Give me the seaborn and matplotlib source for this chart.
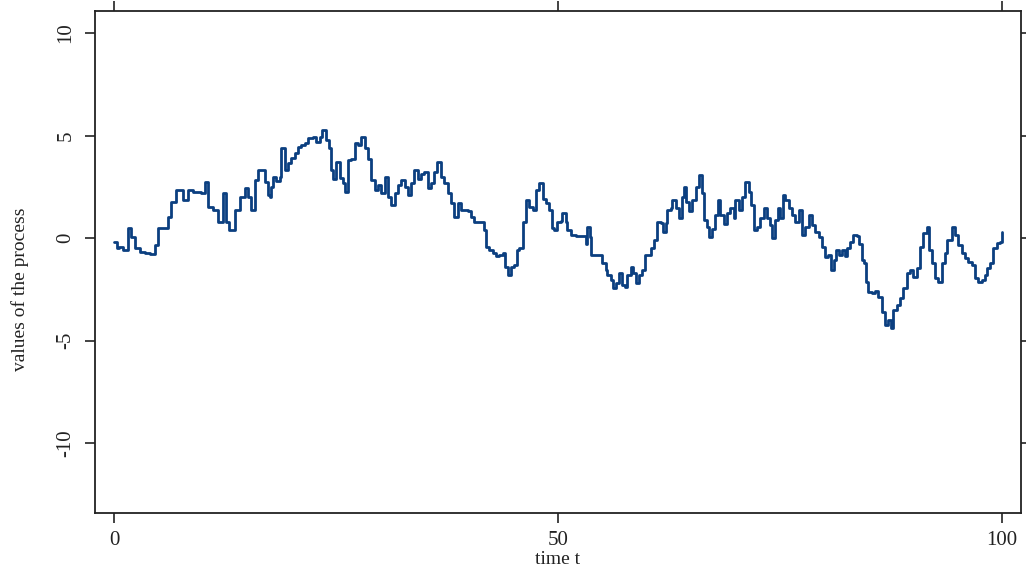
import pandas as pd
import matplotlib
matplotlib.use("Agg")
import matplotlib.pyplot as plt
import seaborn as sns

# values
time_t = [
    0.0, 0.3, 0.6, 1.0, 1.58, 1.95, 2.33, 2.9, 3.45, 4.0, 4.58, 4.95, 5.5, 6.08, 6.46,
    7.02, 7.77, 8.3, 8.9, 9.83, 10.2, 10.59, 11.15, 11.7, 12.27, 12.65, 13.0, 13.6,
    14.15, 14.7, 15.1, 15.46, 15.84, 16.2,
    16.59, 16.97, 17.34, 17.53, 17.72, 17.9, 18.28, 18.65, 18.84, 19.22, 19.59, 19.97,
    20.35, 20.72, 21.1, 21.47, 21.85, 22.41, 22.8, 23.16, 23.46, 23.91, 24.18, 24.4,
    24.66, 25.04, 25.4, 25.79, 26.05, 26.35, 26.73, 27.1, 27.48, 27.85, 28.23, 28.6,
    28.98, 29.36, 29.73, 30.1, 30.48, 30.86, 31.23, 31.6, 31.98, 32.28, 32.73,
    33.1, 33.45, 33.82, 34.2, 34.57, 34.95, 35.32, 35.7, 36.07, 36.38, 36.82, 37.2,
    37.58, 37.95, 38.33, 38.7, 39.08, 39.83, 40.2, 40.58, 41.33, 41.7, 41.89, 42.27,
    42.64, 43.02, 43.39, 43.77, 44.07, 44.33, 44.71, 45.08, 45.38, 45.65, 46.02, 46.4,
    46.77, 47.15, 47.52, 47.9, 48.27, 48.65, 49.02, 49.32,
    49.55, 49.92, 50.3, 50.49, 50.86, 51.05, 51.43, 52.0, 52.7, 53.12, 53.3, 53.6,
    53.75, 54.43, 55.0, 55.37, 55.56, 55.93, 56.23, 56.49, 56.87, 57.24, 57.51, 57.81,
    58.18, 58.48, 58.74, 59.12, 59.5, 59.76, 60.25, 60.51, 60.81, 61.18, 61.56, 61.86,
    62.12, 62.31, 62.69, 62.88, 63.25, 63.63, 64.0, 64.19, 64.38, 64.75, 65.13, 65.5,
    65.88, 66.18,
    66.4, 66.78, 67.04, 67.35, 67.72, 68.02, 68.28, 68.66, 69.03, 69.41, 69.79, 69.97,
    70.35, 70.72, 71.1, 71.48, 71.78, 72.04, 72.41, 72.79, 73.16, 73.54, 73.92, 74.1,
    74.48, 74.78, 75.04, 75.3, 75.6, 75.98, 76.35, 76.73, 77.1, 77.48, 77.86, 78.23,
    78.61, 78.98, 79.36, 79.73, 80.03, 80.41, 80.78, 81.05, 81.31, 81.61, 81.99, 82.29,
    82.55,
    82.88, 83.26, 83.63, 83.93, 84.19, 84.46, 84.68, 84.94, 85.32, 85.7, 86.07, 86.45,
    86.82, 87.2, 87.46, 87.76, 88.14, 88.51, 88.89, 89.26, 89.64, 90.01, 90.39, 90.76,
    91.14, 91.51, 91.81, 92.08, 92.45, 92.83, 93.2, 93.58, 93.84, 94.4, 94.7, 95.08,
    95.45, 95.83, 96.21, 96.58, 96.96, 97.33, 97.71, 98.08, 98.35, 98.65, 99.02, 99.4,
    99.77, 100.0,
]

process_values = [
    -0.2, -0.5, -0.45, -0.6, 0.48, 0.07, -0.5, -0.7, -0.75, -0.8, -0.34, 0.48, 0.5, 1.04,
    1.77, 2.34, 1.85, 2.35, 2.25, 2.2, 2.75, 1.53, 1.37, 0.8, 2.18, 0.8, 0.39, 1.37,
    2.0, 2.43, 2.0, 1.37, 2.83, 3.3,
    3.3, 2.75, 2.1, 2.0, 2.5, 3.0, 2.8, 3.0, 4.37, 3.3, 3.64, 3.89,
    4.13, 4.46, 4.53, 4.62, 4.86, 4.94, 4.7, 4.95, 5.27, 4.8, 4.37, 3.32,
    2.9, 3.72, 2.95, 2.7, 2.26, 3.8, 3.86, 4.62, 4.55, 4.94, 4.37, 3.86,
    2.83, 2.34, 2.6, 2.2, 3.0, 2.0, 1.6, 2.2, 2.6, 2.83, 2.5,
    2.1, 2.67, 3.32, 2.9, 3.1, 3.2, 2.42, 2.67, 3.2, 3.72, 3.0, 2.67,
    2.18, 1.69, 1.04, 1.69, 1.37, 1.3, 1.04, 0.8, 0.8, 0.39, -0.42, -0.59,
    -0.75, -0.9, -0.85, -0.75, -1.4, -1.8, -1.4, -1.3, -0.59, -0.5, 0.8, 1.85,
    1.5, 1.37, 2.34, 2.67, 1.9, 1.69, 1.37, 0.47,
    0.39, 0.8, 0.85, 1.2, 0.8, 0.39, 0.15, 0.1, 0.1, -0.3, 0.55, 0.07,
    -0.83, -0.83, -1.24, -1.56, -1.8, -2.05, -2.45, -2.2, -1.72, -2.3, -2.4, -1.8,
    -1.4, -1.72, -2.2, -1.8, -1.56, -0.83, -0.83, -0.5, -0.1, 0.8, 0.75, 0.31,
    0.75, 1.37, 1.45, 1.85, 1.45, 0.96, 2.0, 2.5, 1.77, 1.3, 1.85, 2.5,
    3.07, 2.18,
    0.88, 0.55, 0.07, 0.45, 1.12, 1.85, 1.12, 0.7, 1.2, 1.45, 1.0, 1.85,
    1.37, 2.0, 2.75, 2.26, 1.6, 0.39, 0.55, 0.96, 1.45, 1.0, 0.63, -0.02,
    0.88, 1.45, 1.0, 2.1, 1.85, 1.45, 1.12, 0.8, 1.37, 0.15, 0.55, 1.12,
    0.63, 0.31, 0.07, -0.42, -0.91, -0.83, -1.56, -1.07, -0.59, -0.83, -0.59, -0.9,
    -0.5,
    -0.18, 0.15, 0.1, -0.3, -1.07, -1.24, -2.13, -2.62, -2.7, -2.6, -2.86, -3.6,
    -4.24, -4.0, -4.4, -3.5, -3.27, -2.94, -2.45, -1.72, -1.56, -1.88, -1.48, -0.42,
    0.23, 0.55, -0.6, -1.24, -1.97, -2.13, -1.24, -0.75, -0.1, 0.55, 0.15, -0.34,
    -0.75, -0.99, -1.15, -1.3, -1.97, -2.13, -2.05, -1.8, -1.48, -1.24, -0.5, -0.26,
    -0.18, 0.3,
]

x_ticks = [0, 50, 100]
y_ticks = [-10, -5, 0, 5, 10]

df = pd.DataFrame({"time t": time_t, "values of the process": process_values})

sns.set_style("ticks")
plt.rcParams["font.family"] = ["Liberation Serif", "DejaVu Serif"]

fig = plt.figure(figsize=(10.26, 5.71), dpi=100)
ax = fig.add_axes([0.0926, 0.1016, 0.9025, 0.879])

sns.lineplot(data=df, x="time t", y="values of the process", ax=ax,
             color="#0b3f80", linewidth=2.0, drawstyle="steps-post",
             estimator=None, sort=False)

ax.set_xlim(-2.14, 102.14)
ax.set_ylim(-13.41, 11.07)
ax.set_xticks(x_ticks)
ax.set_yticks(y_ticks)
ax.set_yticklabels([str(v) for v in y_ticks], rotation=90, va="center")

for s in ax.spines.values():
    s.set_visible(True)
    s.set_linewidth(1.3)
    s.set_color("#222222")

ax.tick_params(axis="both", which="major", direction="out", length=7, width=1.2,
               labelsize=15, colors="#222222", top=True, right=True)
ax.tick_params(axis="x", pad=6)
ax.tick_params(axis="y", pad=7)

ax.set_xlabel("time t", fontsize=14, color="#222222", labelpad=1)
ax.set_ylabel("values of the process", fontsize=14, color="#222222")
ax.yaxis.set_label_coords(-0.071, 0.445)

fig.savefig("out.png", dpi=100)
